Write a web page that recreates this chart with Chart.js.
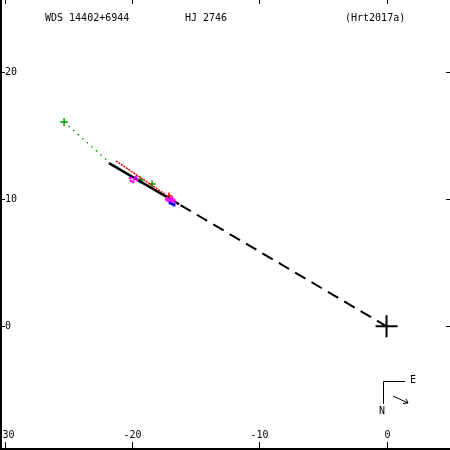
<!DOCTYPE html>
<html>
<head>
<meta charset="utf-8">
<script src="https://cdn.jsdelivr.net/npm/chart.js@4"></script>
<style>
  html, body { margin: 0; padding: 0; background: #fff; }
  canvas { display: block; }
</style>
</head>
<body>
<canvas id="orbitChart" width="450" height="450"></canvas>
<script>
const titleLeft = "WDS 14402+6944";
const titleMid = "HJ 2746";
const titleRight = "(Hrt2017a)";

const xTicks = [-30, -20, -10, 0];
const yTicks = [0, 10, 20];

// orbit (edge-on, so a segment) and line to primary
const orbitX = [-21.82, -16.31];
const orbitY = [12.85, 9.61];
const nodeX = [-16.2, 0];
const nodeY = [9.54, 0];

// other solution (red)
const redLineX = [-21.27, -17.33];
const redLineY = [13.02, 10.34];
const redPlusX = [-17.1];
const redPlusY = [10.26];

// first measurement and its residual line
const firstX = [-25.35];
const firstY = [16.09];
const residX = [-25.35, -21.74];
const residY = [16.09, 12.86];

const greenX = [-19.38, -18.43];
const greenY = [11.52, 11.2];

const magentaX = [-19.85, -20.09, -19.69, -19.93, -19.61, -20.16, -17.26, -17.1, -16.94, -16.78, -17.18, -16.86, -16.62, -17.0, -16.7, -17.3];
const magentaY = [11.59, 11.44, 11.75, 11.36, 11.52, 11.68, 10.1, 10.02, 9.94, 9.87, 9.87, 10.1, 9.71, 9.8, 9.95, 9.98];

const blueX = [-16.86, -16.71, -17.02];
const blueY = [9.63, 9.55, 9.71];

const primaryX = [0];
const primaryY = [0];

function pts(xs, ys) {
  return xs.map((x, i) => ({ x: x, y: ys[i] }));
}

const font = "10px 'DejaVu Sans Mono', monospace";

const framePlugin = {
  id: "frame",
  afterDraw(chart) {
    const c = chart.ctx;
    const sx = chart.scales.x;
    const sy = chart.scales.y;
    const w = chart.width;
    const h = chart.height;
    c.save();
    c.strokeStyle = "#000";
    c.fillStyle = "#000";
    c.lineWidth = 2;
    c.beginPath();
    c.moveTo(1, 0);
    c.lineTo(1, h);
    c.moveTo(0, h - 1);
    c.lineTo(w, h - 1);
    c.stroke();

    c.lineWidth = 1;
    c.font = font;
    c.textAlign = "center";
    c.textBaseline = "middle";
    xTicks.forEach((v) => {
      const px = Math.round(sx.getPixelForValue(v)) + 0.5;
      c.beginPath();
      c.moveTo(px, 0);
      c.lineTo(px, 4);
      c.moveTo(px, h - 8);
      c.lineTo(px, h);
      c.stroke();
      c.fillText(String(v), px, h - 15);
    });
    c.textAlign = "left";
    yTicks.forEach((v) => {
      const py = Math.round(sy.getPixelForValue(v)) + 0.5;
      c.beginPath();
      c.moveTo(0, py);
      c.lineTo(5, py);
      c.moveTo(w - 4, py);
      c.lineTo(w, py);
      c.stroke();
      c.fillText(String(v), 5, py);
    });

    c.textBaseline = "alphabetic";
    c.fillText(titleLeft, 45, 21);
    c.fillText(titleMid, 185, 21);
    c.fillText(titleRight, 345, 21);

    // compass
    c.beginPath();
    c.moveTo(383.5, 404);
    c.lineTo(383.5, 381.5);
    c.lineTo(405, 381.5);
    c.stroke();
    c.textAlign = "center";
    c.textBaseline = "middle";
    c.fillText("E", 413, 380);
    c.fillText("N", 382, 411);
    c.beginPath();
    c.moveTo(393, 396);
    c.lineTo(408, 403);
    c.moveTo(408, 403);
    c.lineTo(403, 403.5);
    c.moveTo(408, 403);
    c.lineTo(406, 399);
    c.stroke();
    c.restore();
  },
};

new Chart(document.getElementById("orbitChart"), {
  type: "scatter",
  data: {
    datasets: [
      {
        data: pts(residX, residY),
        showLine: true,
        borderColor: "#00a000",
        borderWidth: 1.5,
        borderDash: [1.5, 4.6],
        pointRadius: 0,
      },
      {
        data: pts(nodeX, nodeY),
        showLine: true,
        borderColor: "#000",
        borderWidth: 2,
        borderDash: [12, 7],
        pointRadius: 0,
      },
      {
        data: pts(blueX, blueY),
        pointStyle: "rect",
        pointRadius: 2,
        backgroundColor: "#0000ff",
        borderColor: "#0000ff",
        borderWidth: 0,
      },
      {
        data: pts(magentaX, magentaY),
        pointStyle: "rect",
        pointRadius: 1.8,
        backgroundColor: "#ff00ff",
        borderColor: "#ff00ff",
        borderWidth: 0,
      },
      {
        data: pts(orbitX, orbitY),
        showLine: true,
        borderColor: "#000",
        borderWidth: 2.5,
        pointRadius: 0,
      },
      {
        data: pts(redLineX, redLineY),
        showLine: true,
        borderColor: "#e00000",
        borderWidth: 1.5,
        borderDash: [2, 1],
        pointRadius: 0,
      },
      {
        data: pts(greenX, greenY),
        pointStyle: "cross",
        pointRadius: 3.5,
        borderColor: "#00a000",
        borderWidth: 1.5,
      },
      {
        data: pts(redPlusX, redPlusY),
        pointStyle: "cross",
        pointRadius: 3.5,
        borderColor: "#e00000",
        borderWidth: 1.5,
      },
      {
        data: pts(firstX, firstY),
        pointStyle: "cross",
        pointRadius: 4,
        borderColor: "#00a000",
        borderWidth: 1.5,
      },
      {
        data: pts(primaryX, primaryY),
        pointStyle: "cross",
        pointRadius: 11,
        borderColor: "#000",
        borderWidth: 2,
      },
    ],
  },
  options: {
    responsive: false,
    animation: false,
    layout: { padding: 0, autoPadding: false },
    plugins: {
      legend: { display: false },
      tooltip: { enabled: false },
    },
    scales: {
      x: { type: "linear", display: false, min: -30.39, max: 4.99 },
      y: { type: "linear", display: false, min: -9.74, max: 25.69 },
    },
  },
  plugins: [framePlugin],
});
</script>
</body>
</html>
